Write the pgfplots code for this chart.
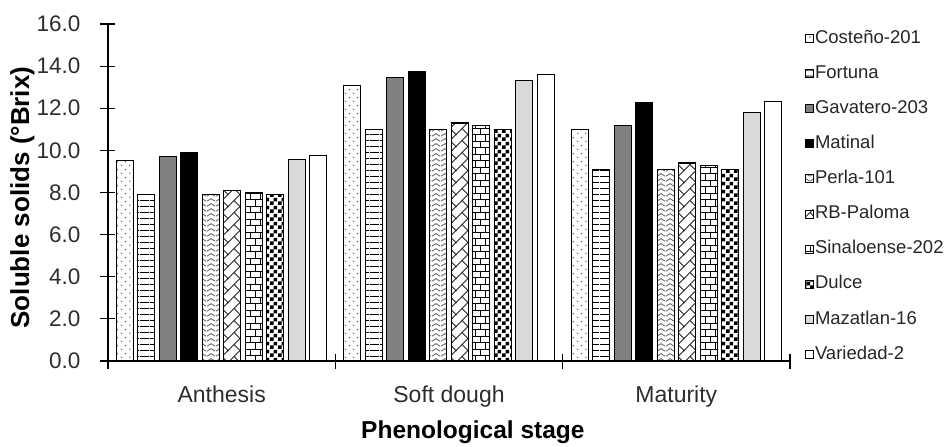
\documentclass[border=0pt]{standalone}
\usepackage{pgfplots}
\pgfplotsset{compat=1.18}
\usepackage{fontspec}
\setmainfont{Liberation Sans}
\usetikzlibrary{patterns,patterns.meta}

\pgfdeclarepattern{
  name=sdots, type=uncolored,
  bottom left={\pgfpoint{0pt}{0pt}}, top right={\pgfpoint{8pt}{8pt}},
  tile size={\pgfpoint{8pt}{8pt}},
  code={
    \pgfpathcircle{\pgfpoint{2pt}{2pt}}{0.8pt}
    \pgfpathcircle{\pgfpoint{6pt}{6pt}}{0.8pt}
    \pgfusepath{fill}
  }
}
\pgfdeclarepattern{
  name=hlines, type=uncolored,
  bottom left={\pgfpoint{0pt}{0pt}}, top right={\pgfpoint{10pt}{5.5pt}},
  tile size={\pgfpoint{10pt}{5.5pt}},
  code={
    \pgfsetlinewidth{1pt}
    \pgfpathmoveto{\pgfpoint{0pt}{2.75pt}}\pgfpathlineto{\pgfpoint{10pt}{2.75pt}}
    \pgfusepath{stroke}
  }
}
\pgfdeclarepattern{
  name=zig, type=uncolored,
  bottom left={\pgfpoint{0pt}{0pt}}, top right={\pgfpoint{9pt}{5pt}},
  tile size={\pgfpoint{9pt}{5pt}},
  code={
    \pgfsetlinewidth{1pt}
    \pgfpathmoveto{\pgfpoint{0pt}{1pt}}\pgfpathlineto{\pgfpoint{4.5pt}{4pt}}\pgfpathlineto{\pgfpoint{9pt}{1pt}}
    \pgfusepath{stroke}
  }
}
\pgfdeclarepattern{
  name=diag, type=uncolored,
  bottom left={\pgfpoint{-0.5pt}{-0.5pt}}, top right={\pgfpoint{12.5pt}{12.5pt}},
  tile size={\pgfpoint{12pt}{12pt}},
  code={
    \pgfsetlinewidth{0.9pt}
    \pgfpathmoveto{\pgfpoint{-0.5pt}{-0.5pt}}\pgfpathlineto{\pgfpoint{12.5pt}{12.5pt}}
    \pgfpathmoveto{\pgfpoint{6pt}{6pt}}\pgfpathlineto{\pgfpoint{12.5pt}{-0.5pt}}
    \pgfusepath{stroke}
  }
}
\pgfdeclarepattern{
  name=mybricks, type=uncolored,
  bottom left={\pgfpoint{-0.5pt}{-0.5pt}}, top right={\pgfpoint{10.5pt}{13.5pt}},
  tile size={\pgfpoint{10pt}{13pt}},
  code={
    \pgfsetlinewidth{0.9pt}
    \pgfpathmoveto{\pgfpoint{-0.5pt}{0pt}}\pgfpathlineto{\pgfpoint{10.5pt}{0pt}}
    \pgfpathmoveto{\pgfpoint{-0.5pt}{6.5pt}}\pgfpathlineto{\pgfpoint{10.5pt}{6.5pt}}
    \pgfpathmoveto{\pgfpoint{0pt}{0pt}}\pgfpathlineto{\pgfpoint{0pt}{6.5pt}}
    \pgfpathmoveto{\pgfpoint{5pt}{6.5pt}}\pgfpathlineto{\pgfpoint{5pt}{13pt}}
    \pgfusepath{stroke}
  }
}
\pgfdeclarepattern{
  name=checker, type=uncolored,
  bottom left={\pgfpoint{0pt}{0pt}}, top right={\pgfpoint{7.5pt}{7.5pt}},
  tile size={\pgfpoint{7.5pt}{7.5pt}},
  code={
    \pgfpathrectangle{\pgfpoint{0pt}{0pt}}{\pgfpoint{3.75pt}{3.75pt}}
    \pgfpathrectangle{\pgfpoint{3.75pt}{3.75pt}}{\pgfpoint{3.75pt}{3.75pt}}
    \pgfusepath{fill}
  }
}

\definecolor{gavgray}{RGB}{128,128,128}
\definecolor{mazgray}{RGB}{217,217,217}
\definecolor{ticktext}{RGB}{45,45,45}

\begin{document}
\begin{tikzpicture}
\begin{axis}[
  scale only axis,
  width=682pt, height=337pt,
  xmin=-0.5, xmax=2.5, ymin=0, ymax=16,
  clip=false,
  axis x line=bottom, axis y line=left,
  axis line style={-, line width=1.1pt},
  ybar=4.5pt, bar width=17pt,
  xtick={0,1,2},
  xticklabels={Anthesis, Soft dough, Maturity},
  major x tick style={draw=none},
  minor xtick={-0.5,0.5,1.5,2.5},
  minor x tick style={line width=1.1pt, black},
  minor tick length=15pt,
  ytick={0,2,...,16},
  major tick length=15pt,
  tick align=center,
  y tick style={line width=1.1pt, black},
  /pgf/number format/assume math mode=true,
  yticklabel={\pgfmathprintnumber[fixed,fixed zerofill,precision=1]{\tick}},
  yticklabel style={anchor=east, inner sep=0pt, xshift=-20pt, font=\fontsize{22.5}{27}\selectfont, text=ticktext},
  xticklabel style={anchor=base, inner sep=0pt, yshift=-34pt, font=\fontsize{23}{27}\selectfont, text=ticktext},
  ylabel={Soluble solids (°Brix)},
  ylabel style={at={(axis description cs:-0.1158,0.485)}, anchor=base, inner sep=0pt, font=\bfseries\fontsize{26}{30}\selectfont},
  xlabel={Phenological stage},
  xlabel style={at={(axis description cs:0.535,-0.2285)}, anchor=base, font=\bfseries\fontsize{24.5}{28}\selectfont},
  every axis plot/.append style={draw=black, line width=1.1pt},
  legend image code/.code={\draw[#1, line width=0.8pt] (0pt,-4pt) rectangle (8pt,4pt);},
  legend cell align=left,
  legend style={at={(1,0.9866)}, anchor=north west, xshift=15pt, draw=none, fill=none, inner sep=0pt,
    row sep=15.6pt, font=\fontsize{18.5}{22}\selectfont, text=black!85,
    nodes={inner sep=1pt, text height=13.5pt, text depth=4pt}},
]
\addplot[pattern=sdots, pattern color=black!75] coordinates {(0,9.5) (1,13.1) (2,11.0)};
\addlegendentry{Costeño-201}
\addplot[pattern=hlines, pattern color=black] coordinates {(0,7.9) (1,11.0) (2,9.1)};
\addlegendentry{Fortuna}
\addplot[fill=gavgray] coordinates {(0,9.7) (1,13.45) (2,11.2)};
\addlegendentry{Gavatero-203}
\addplot[fill=black] coordinates {(0,9.9) (1,13.75) (2,12.25)};
\addlegendentry{Matinal}
\addplot[pattern=zig, pattern color=black!60] coordinates {(0,7.9) (1,11.0) (2,9.1)};
\addlegendentry{Perla-101}
\addplot[pattern=diag, pattern color=black!85] coordinates {(0,8.1) (1,11.3) (2,9.4)};
\addlegendentry{RB-Paloma}
\addplot[pattern=mybricks, pattern color=black] coordinates {(0,8.0) (1,11.2) (2,9.3)};
\addlegendentry{Sinaloense-202}
\addplot[pattern=checker, pattern color=black] coordinates {(0,7.9) (1,11.0) (2,9.1)};
\addlegendentry{Dulce}
\addplot[fill=mazgray] coordinates {(0,9.55) (1,13.3) (2,11.8)};
\addlegendentry{Mazatlan-16}
\addplot[fill=white] coordinates {(0,9.75) (1,13.6) (2,12.3)};
\addlegendentry{Variedad-2}
\path (rel axis cs:0,0) ++(-108pt,-83pt) rectangle ++(949pt,444pt);
\end{axis}
\end{tikzpicture}
\end{document}
